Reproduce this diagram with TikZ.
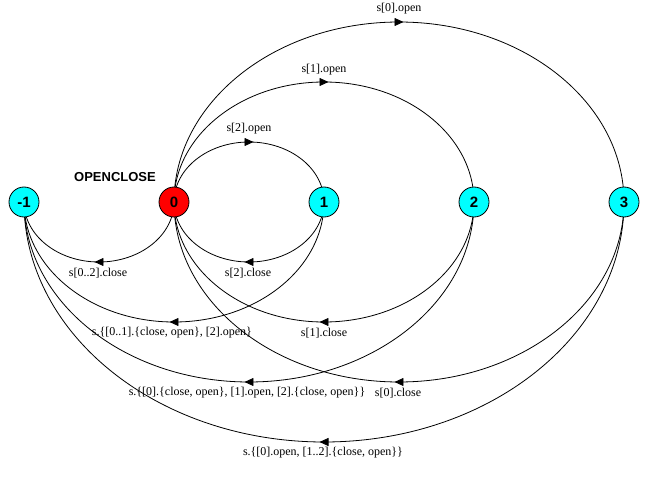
\documentclass[tikz,border=0pt]{standalone}
\usepackage{fontspec}
\setmainfont{Liberation Serif}
\newfontfamily\nodefont{Liberation Sans}
\usetikzlibrary{arrows.meta,decorations.markings,calc}
\pgfdeclarelayer{background}
\pgfsetlayers{background,main}
\definecolor{stcyan}{RGB}{0,255,255}
\definecolor{stred}{RGB}{255,0,0}
\tikzset{
  state/.style={circle,draw=black,line width=0.8pt,minimum size=30pt,inner sep=0pt,font=\nodefont\bfseries\fontsize{15}{15}\selectfont},
  lbl/.style={inner sep=0pt,font=\fontsize{12}{12}\selectfont},
  edge/.style={line width=0.8pt,postaction={decorate},
    decoration={markings,mark=at position 0.5 with {\arrow[xshift=4.5pt]{Triangle[length=9pt,width=8pt]}}}}
}
\newcommand{\arcedge}[3]{%
  \draw[edge] let \p1=(#1.center), \p2=(#2.center), \n1={(\x2-\x1)/2} in
    (#1.center) .. controls +(0,{#3*0.5523}) and +({-0.5523*\n1},0) .. ($(\p1)!.5!(\p2)+(0,#3)$)
    .. controls +({0.5523*\n1},0) and +(0,{#3*0.5523}) .. (#2.center);}
\begin{document}
\begin{tikzpicture}[x=1pt,y=-1pt]
\useasboundingbox (0,0) rectangle (665,492);
\node[state,fill=stcyan] (m1) at (24,202) {-1};
\node[state,fill=stred] (s0) at (174,202) {0};
\node[state,fill=stcyan] (s1) at (324,202) {1};
\node[state,fill=stcyan] (s2) at (474,202) {2};
\node[state,fill=stcyan] (s3) at (624,202) {3};
\node[font=\nodefont\bfseries\fontsize{13}{13}\selectfont,inner sep=0pt] (title) at (115,177) {OPENCLOSE};
\begin{pgfonlayer}{background}
\arcedge{s0}{s1}{-60}
\arcedge{s0}{s2}{-120}
\arcedge{s0}{s3}{-180}
\arcedge{s0}{m1}{60}
\arcedge{s1}{s0}{60}
\arcedge{s2}{s0}{120}
\arcedge{s3}{s0}{180}
\arcedge{s1}{m1}{120}
\arcedge{s2}{m1}{180}
\arcedge{s3}{m1}{240}
\end{pgfonlayer}
\node[lbl] (l01) at (249,129) {s[2].open};
\node[lbl] (l02) at (324,70) {s[1].open};
\node[lbl] (l03) at (399,9) {s[0].open};
\node[lbl] (l0m) at (98,273) {s[0..2].close};
\node[lbl] (l10) at (248,273) {s[2].close};
\node[lbl] (l20) at (324,333) {s[1].close};
\node[lbl] (l30) at (398,393) {s[0].close};
\node[lbl] (l1m) at (172,333) {s.\{[0..1].\{close, open\}, [2].open\}};
\node[lbl] (l2m) at (247,393) {s.\{[0].\{close, open\}, [1].open, [2].\{close, open\}\}};
\node[lbl] (l3m) at (323,453) {s.\{[0].open, [1..2].\{close, open\}\}};
\end{tikzpicture}
\end{document}
